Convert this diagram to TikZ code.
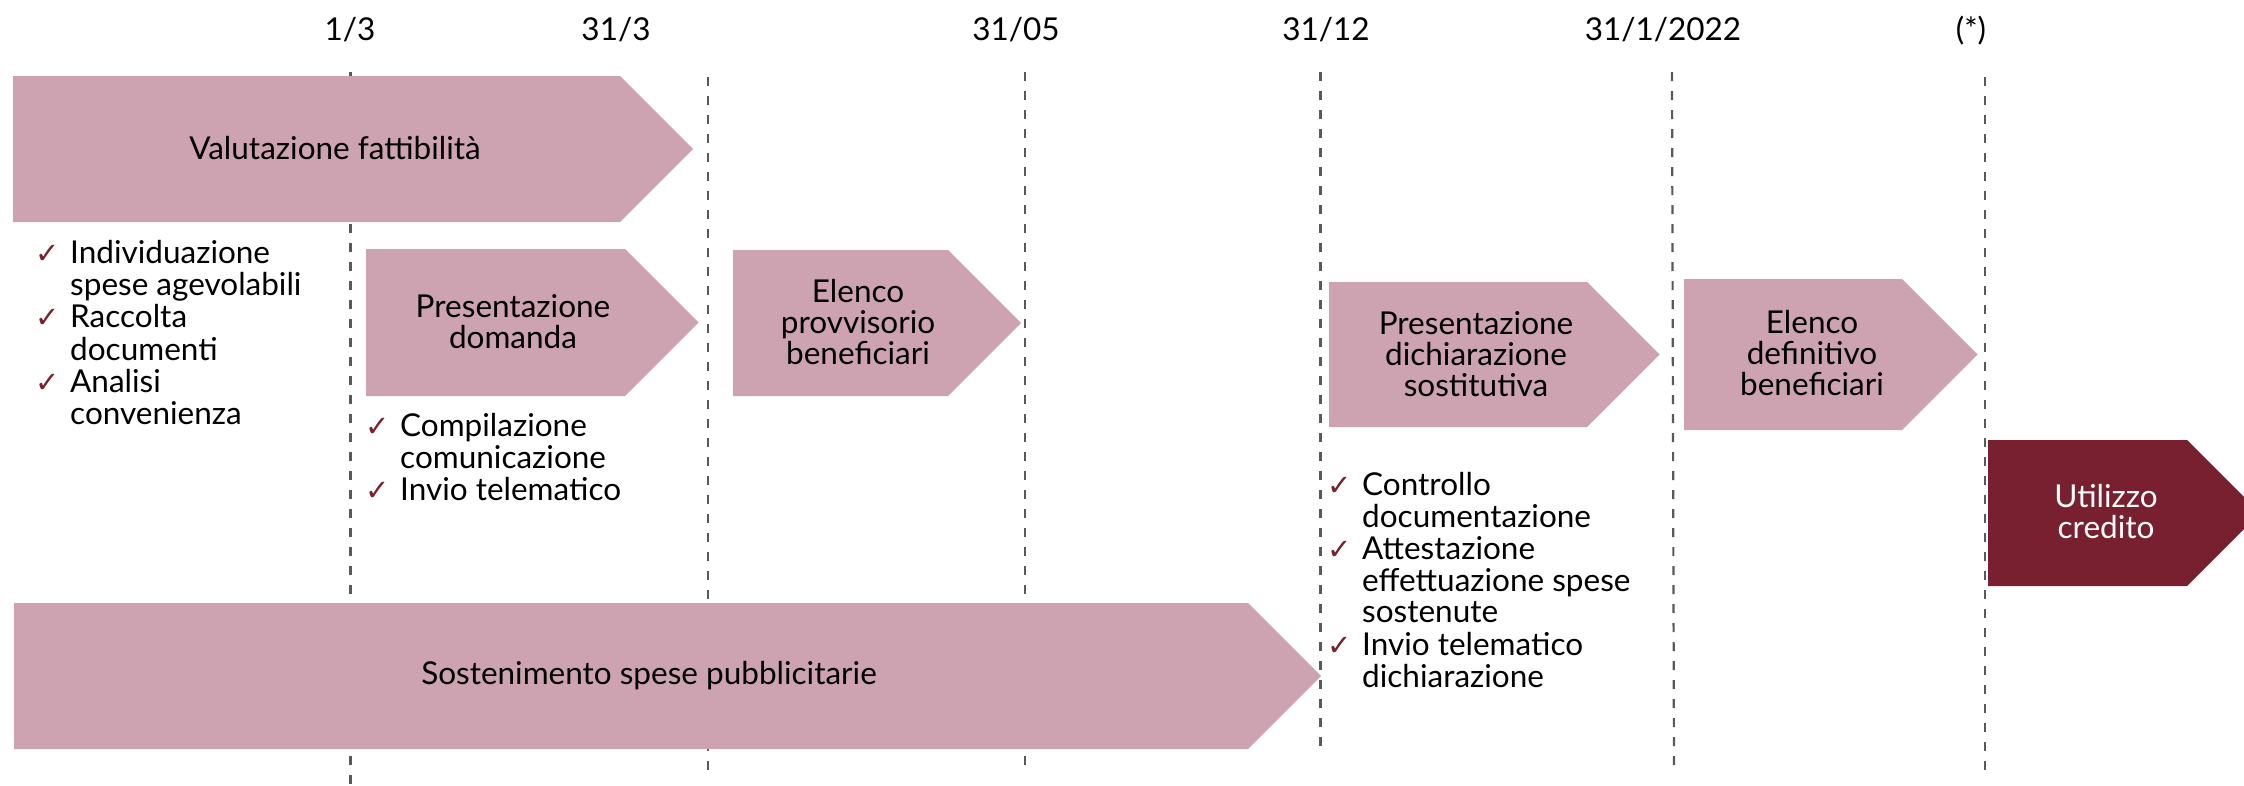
\documentclass[tikz,border=0pt]{standalone}
\usepackage{fontspec}
\setmainfont{Lato}
\newfontfamily\symfont{DejaVu Sans}
\definecolor{pinkbox}{HTML}{CDA3B2}
\definecolor{maroon}{HTML}{78202F}
\definecolor{dashgray}{HTML}{595959}
\newcommand{\ck}{\makebox[35pt][l]{\symfont\fontsize{29}{29}\selectfont\textcolor{maroon}{✓}}}
\newcommand{\chev}[5]{\fill[#5] (#1,#2) -- (#4,#2) -- ({#4+(#3-#2)/2},{(#2+#3)/2}) -- (#4,#3) -- (#1,#3) -- cycle;}
\tikzset{
  datelbl/.style={anchor=base, inner sep=0pt, font=\fontsize{31.5}{31}\selectfont},
  boxtxt/.style={align=center, inner sep=0pt, font=\fontsize{31.5}{31}\selectfont},
  checklist/.style={anchor=base west, inner sep=0pt, font=\fontsize{31.5}{30.7}\selectfont},
  timeline/.style={draw=dashgray, line width=2.2pt, dash pattern=on 9pt off 10pt}
}
\begin{document}
\begin{tikzpicture}[x=1pt,y=-1pt]
\useasboundingbox (0,0) rectangle (2244,785);
\clip (0,0) rectangle (2244,785);
% date labels
\node[datelbl] (d1) at (350,40) {1/3};
\node[datelbl] (d2) at (616,40) {31/3};
\node[datelbl] (d3) at (1016,40) {31/05};
\node[datelbl] (d4) at (1326,40) {31/12};
\node[datelbl] (d5) at (1663,40) {31/1/2022};
\node[datelbl] (d6) at (1971,40) {(*)};
% dashed timelines
\coordinate (t1) at (350.5,72);  \coordinate (b1) at (350.5,785);
\coordinate (t2) at (708,77);    \coordinate (b2) at (708,777);
\coordinate (t3) at (1025,72);   \coordinate (b3) at (1025,773);
\coordinate (t4) at (1320.5,72); \coordinate (b4) at (1320.5,753);
\coordinate (t5) at (1672,72);   \coordinate (b5) at (1674,773);
\coordinate (t6) at (1985,77);   \coordinate (b6) at (1985,777);
\foreach \i in {1,...,6}{\draw[timeline] (t\i) -- (b\i);}
% chevrons
\chev{13}{76}{222}{620}{pinkbox}
\chev{366}{249}{396}{625}{pinkbox}
\chev{733}{250}{396}{948}{pinkbox}
\chev{1329}{282}{427}{1587}{pinkbox}
\chev{1684}{279}{430}{1902}{pinkbox}
\chev{1988}{440}{586}{2187}{maroon}
\chev{14}{603}{749}{1248}{pinkbox}
% chevron texts
\node[boxtxt] (v) at (335,148) {Valutazione fattibilità};
\node[boxtxt] (pd) at (513,322) {Presentazione\\domanda};
\node[boxtxt] (ep) at (858,322) {Elenco\\provvisorio\\beneficiari};
\node[boxtxt] (pds) at (1476,354) {Presentazione\\dichiarazione\\sostitutiva};
\node[boxtxt] (ed) at (1812,353) {Elenco\\definitivo\\beneficiari};
\node[boxtxt, text=white] (uc) at (2106,512) {Utilizzo\\credito};
\node[boxtxt] (ss) at (649,676) {Sostenimento spese pubblicitarie};
% checklists
\node[checklist] (c1) at (35,263) {\begin{tabular}[t]{@{}l@{}l@{}}
\ck & Individuazione\\ & spese agevolabili\\
\ck & Raccolta\\ & documenti\\
\ck & Analisi\\ & convenienza
\end{tabular}};
\node[checklist] (c2) at (365,436) {\begin{tabular}[t]{@{}l@{}l@{}}
\ck & Compilazione\\ & comunicazione\\
\ck & Invio telematico
\end{tabular}};
\node[checklist] (c3) at (1327,495) {\begin{tabular}[t]{@{}l@{}l@{}}
\ck & Controllo\\ & documentazione\\
\ck & Attestazione\\ & effettuazione spese\\ & sostenute\\
\ck & Invio telematico\\ & dichiarazione
\end{tabular}};
\end{tikzpicture}
\end{document}
